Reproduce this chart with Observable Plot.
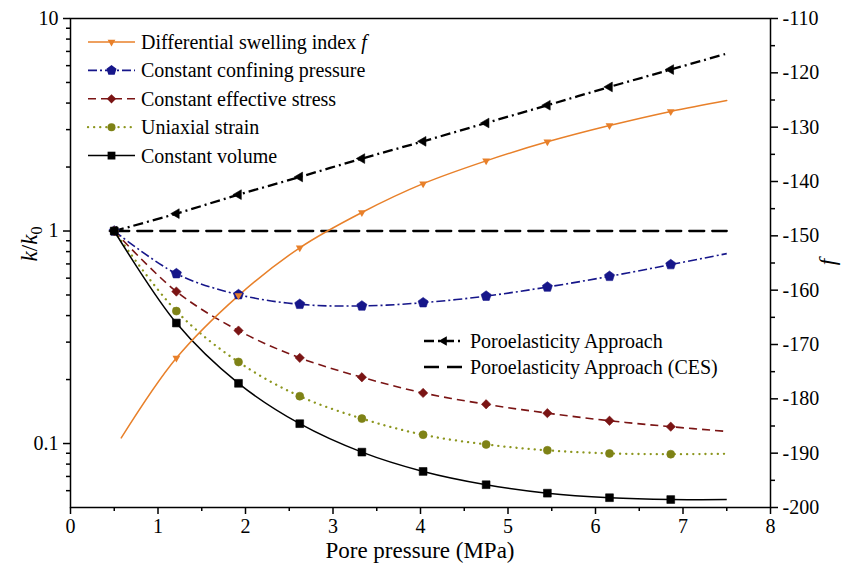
<!DOCTYPE html>
<html><head><meta charset="utf-8">
<script src="https://cdn.jsdelivr.net/npm/d3@7"></script>
<script src="https://cdn.jsdelivr.net/npm/@observablehq/plot@0.6"></script>
<style>body{margin:0;background:#fff;} #chart{width:848px;height:575px;}</style>
</head><body><div id="chart"></div>
<script>
// ---- data ----
const pressure = [0.5, 1.21, 1.92, 2.62, 3.33, 4.03, 4.75, 5.45, 6.16, 6.86, 7.5];
const constantConfining = [1, 0.630, 0.502, 0.452, 0.444, 0.460, 0.494, 0.545, 0.612, 0.695, 0.783];
const constantEffective = [1, 0.519, 0.340, 0.253, 0.205, 0.173, 0.153, 0.139, 0.128, 0.120, 0.114];
const uniaxialStrain = [1, 0.420, 0.242, 0.167, 0.131, 0.110, 0.0990, 0.0929, 0.0898, 0.0891, 0.0895];
const constantVolume = [1, 0.369, 0.192, 0.124, 0.0911, 0.0739, 0.0640, 0.0584, 0.0556, 0.0545, 0.0545];
const poroelasticity = [1, 1.207, 1.483, 1.796, 2.192, 2.642, 3.223, 3.906, 4.764, 5.75, 6.84];
const cesPressure = [0.5, 7.5];
const cesValues = [1, 1];
const swellingPressure = [0.58, 1.21, 1.92, 2.62, 3.33, 4.03, 4.75, 5.45, 6.16, 6.86, 7.5];
const swellingF = [-187.2, -172.5, -161.0, -152.2, -145.7, -140.4, -136.2, -132.7, -129.7, -127.1, -125.1];

const xMajor = [0, 1, 2, 3, 4, 5, 6, 7, 8];
const xMinor = [0.5, 1.5, 2.5, 3.5, 4.5, 5.5, 6.5, 7.5];
const kMajor = [0.1, 1, 10];
const kMajorLabels = ["0.1", "1", "10"];
const kMinor = [0.06, 0.07, 0.08, 0.09, 0.2, 0.3, 0.4, 0.5, 0.6, 0.7, 0.8, 0.9, 2, 3, 4, 5, 6, 7, 8, 9];
const fMajor = [-200, -190, -180, -170, -160, -150, -140, -130, -120, -110];
const fMinor = [-195, -185, -175, -165, -155, -145, -135, -125, -115];

// ---- scales ----
const kDomain = [0.05, 10];
const fDomain = [-200, -110];
const L0 = Math.log10(kDomain[0]), L1 = Math.log10(kDomain[1]);
const fToK = f => 10 ** (L0 + (f - fDomain[0]) / (fDomain[1] - fDomain[0]) * (L1 - L0));

const pentagon = {draw(ctx, size) {
  const R = Math.sqrt(size / 2.3776);
  for (let i = 0; i < 5; i++) {
    const a = -Math.PI / 2 + i * 2 * Math.PI / 5;
    const x = R * Math.cos(a), y = R * Math.sin(a);
    if (i) ctx.lineTo(x, y); else ctx.moveTo(x, y);
  }
  ctx.closePath();
}};

const ORANGE = "#E8802A", NAVY = "#16168A", MAROON = "#7A1414", OLIVE = "#8C961E", BLACK = "#000";

const kSeries = [
  {name: "Constant confining pressure", values: constantConfining, color: NAVY, dash: "9,3,2,3", sw: 1.6, cap: "butt", symbol: pentagon, r: 4.6, rot: 0, fill: NAVY},
  {name: "Constant effective stress", values: constantEffective, color: MAROON, dash: "8,5", sw: 1.6, cap: "butt", symbol: "diamond2", r: 4.2, rot: 0, fill: MAROON},
  {name: "Uniaxial strain", values: uniaxialStrain, color: OLIVE, dash: "0.1,6", sw: 2.3, cap: "round", symbol: "circle", r: 4, rot: 0, fill: "#7E8216"},
  {name: "Constant volume", values: constantVolume, color: BLACK, dash: null, sw: 1.5, cap: "butt", symbol: "square", r: 4.4, rot: 0, fill: BLACK},
  {name: "Poroelasticity Approach", values: poroelasticity, color: BLACK, dash: "10,4,2,4", sw: 2.3, cap: "butt", symbol: "triangle", r: 3.6, rot: -90, fill: BLACK}
];

const marks = [];
marks.push(Plot.line(cesPressure.map((x, i) => ({x, k: cesValues[i]})), {x: "x", y: "k", stroke: BLACK, strokeWidth: 2.3, strokeDasharray: "15,8"}));
for (const s of kSeries) {
  const rows = pressure.map((x, i) => ({x, k: s.values[i]}));
  marks.push(Plot.line(rows, {x: "x", y: "k", stroke: s.color, strokeWidth: s.sw, strokeLinecap: s.cap, strokeDasharray: s.dash || undefined, curve: "catmull-rom"}));
}
const swRows = swellingPressure.map((x, i) => ({x, f: swellingF[i]}));
marks.push(Plot.line(swRows, {x: "x", y: d => fToK(d.f), stroke: ORANGE, strokeWidth: 1.5, curve: "catmull-rom"}));
for (const s of kSeries) {
  const rows = pressure.map((x, i) => ({x, k: s.values[i]})).slice(0, -1);
  marks.push(Plot.dot(rows, {x: "x", y: "k", symbol: s.symbol, r: s.r, rotate: s.rot, fill: s.fill, stroke: s.fill, strokeWidth: 0.6}));
}
marks.push(Plot.dot(swRows.slice(1, -1), {x: "x", y: d => fToK(d.f), symbol: "triangle", r: 2.9, rotate: 180, fill: ORANGE}));

// axes
marks.push(Plot.axisX(xMajor, {tickSize: 7, tickPadding: 4, strokeWidth: 1.5, label: null, text: d => String(d)}));
marks.push(Plot.axisX(xMinor, {tickSize: 4, strokeWidth: 1.5, label: null, text: () => ""}));
marks.push(Plot.axisY(kMajor, {anchor: "left", tickSize: 7, tickPadding: 5, strokeWidth: 1.5, label: null, text: (d, i) => kMajorLabels[i]}));
marks.push(Plot.axisY(kMinor, {anchor: "left", tickSize: 4, strokeWidth: 1.5, label: null, text: () => ""}));
const fMajorRows = fMajor.map(f => ({k: fToK(f), label: String(f)}));
marks.push(Plot.axisY(fMajorRows.map(d => d.k), {anchor: "right", tickSize: 7, tickPadding: 5, strokeWidth: 1.5, label: null, text: (d, i) => fMajorRows[i].label}));
marks.push(Plot.axisY(fMinor.map(fToK), {anchor: "right", tickSize: 4, strokeWidth: 1.5, label: null, text: () => ""}));
marks.push(Plot.frame({stroke: BLACK, strokeWidth: 1.5}));

const W = 848, H = 575;
const chart = Plot.plot({
  width: W, height: H,
  marginLeft: 70, marginRight: 78, marginTop: 18, marginBottom: 68,
  x: {domain: [0, 8]},
  y: {type: "log", domain: kDomain},
  style: {fontFamily: '"Liberation Serif", "Times New Roman", serif', fontSize: "20px", background: "#fff", color: "#000"},
  marks
});
document.getElementById("chart").appendChild(chart);

// ---- titles & legends ----
const svg = d3.select(chart);
const FONT = '"Liberation Serif", "Times New Roman", serif';
const g = svg.append("g").attr("font-family", FONT).attr("fill", "#000").attr("text-anchor", "start");

g.append("text").attr("x", 420).attr("y", 558).attr("text-anchor", "middle").attr("font-size", 23).text("Pore pressure (MPa)");

const yl = g.append("text").attr("transform", "translate(37,244) rotate(-90)").attr("text-anchor", "middle").attr("font-size", 23);
yl.append("tspan").attr("font-style", "italic").text("k");
yl.append("tspan").text("/");
yl.append("tspan").attr("font-style", "italic").text("k");
yl.append("tspan").attr("font-size", 16).attr("dy", 5).text("0");

g.append("text").attr("transform", "translate(835,262) rotate(-90)").attr("text-anchor", "middle").attr("font-size", 23).attr("font-style", "italic").text("f");

function symbolPath(sym, r) {
  const type = sym === pentagon ? pentagon : ({triangle: d3.symbolTriangle, square: d3.symbolSquare, circle: d3.symbolCircle, diamond2: d3.symbolDiamond2})[sym];
  return d3.symbol(type, Math.PI * r * r)();
}
function legendRow(y, x0, x1, item, label, italicSuffix) {
  g.append("line").attr("x1", x0).attr("x2", x1).attr("y1", y).attr("y2", y)
    .attr("stroke", item.color).attr("stroke-width", item.sw)
    .attr("stroke-linecap", item.cap || "butt")
    .attr("stroke-dasharray", item.dash || null);
  if (item.symbol) {
    g.append("path").attr("d", symbolPath(item.symbol, item.r))
      .attr("transform", `translate(${(x0 + x1) / 2},${y}) rotate(${item.rot || 0})`)
      .attr("fill", item.fill || item.color);
  }
  const t = g.append("text").attr("x", x1 + 6).attr("y", y).attr("dy", "0.35em").attr("font-size", 20).attr("text-anchor", "start").text(label);
  if (italicSuffix) t.append("tspan").attr("font-style", "italic").text(" " + italicSuffix);
}
const legend1 = [
  [{color: ORANGE, sw: 1.5, symbol: "triangle", r: 2.9, rot: 180}, "Differential swelling index", "f"],
  [kSeries[0], kSeries[0].name],
  [kSeries[1], kSeries[1].name],
  [kSeries[2], kSeries[2].name],
  [kSeries[3], kSeries[3].name]
];
legend1.forEach((d, i) => legendRow(42 + i * 28.4, 88, 135, d[0], d[1], d[2]));
legendRow(341, 424, 464, kSeries[4], "Poroelasticity Approach");
legendRow(367, 424, 464, {color: BLACK, sw: 2.3, dash: "15,8"}, "Poroelasticity Approach (CES)");
</script>
</body></html>
